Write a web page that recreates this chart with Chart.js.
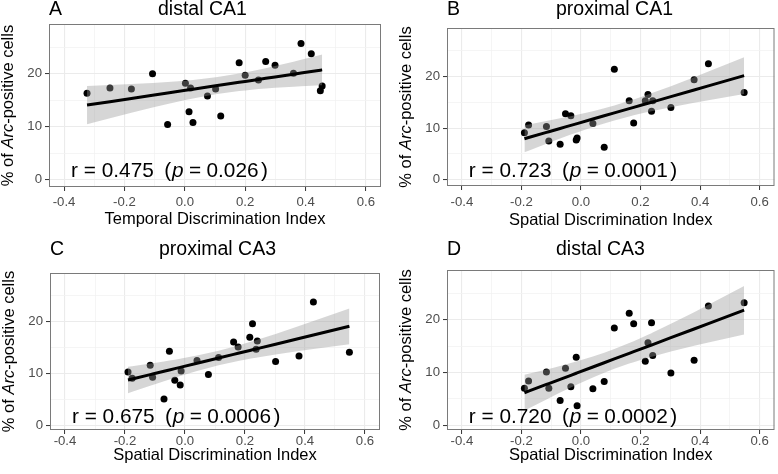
<!DOCTYPE html>
<html><head><meta charset="utf-8">
<script src="https://cdn.jsdelivr.net/npm/chart.js@4.4.1/dist/chart.umd.min.js"></script>
<style>
html,body{margin:0;padding:0;background:#fff;}
#wrap{position:relative;width:778px;height:474px;overflow:hidden;background:#fff;}
canvas{position:absolute;}
</style></head><body>
<div id="wrap">
<canvas id="cA" width="389" height="237" style="left:0;top:0"></canvas>
<canvas id="cB" width="389" height="237" style="left:389px;top:0"></canvas>
<canvas id="cC" width="389" height="237" style="left:0;top:237px"></canvas>
<canvas id="cD" width="389" height="237" style="left:389px;top:237px"></canvas>
</div>
<script>
// ---- data ----
const temporalIndex = [-0.324, -0.248, -0.177, -0.107, -0.057, 0.002, 0.019, 0.014, 0.027, 0.075, 0.102, 0.119, 0.180, 0.200, 0.244, 0.268, 0.299, 0.360, 0.385, 0.419, 0.449, 0.455];
const distalCA1 = [16.3, 17.3, 17.1, 20.0, 10.4, 18.2, 17.3, 12.8, 10.8, 15.8, 17.1, 12.0, 22.1, 19.7, 18.8, 22.3, 21.6, 20.1, 25.7, 23.8, 16.8, 17.7];

const spatialIndex = [-0.190, -0.176, -0.116, -0.108, -0.070, -0.052, -0.034, -0.016, -0.013, 0.040, 0.078, 0.112, 0.162, 0.177, 0.216, 0.225, 0.237, 0.241, 0.302, 0.380, 0.428, 0.548];
const proximalCA1 = [9.1, 10.6, 10.3, 7.5, 6.9, 12.8, 12.4, 7.7, 8.1, 10.9, 6.3, 21.4, 15.3, 11.0, 15.3, 16.5, 13.3, 15.3, 14.0, 19.4, 22.5, 16.9];
const proximalCA3 = [10.3, 9.1, 11.6, 9.3, 5.1, 14.3, 8.7, 7.8, 10.5, 12.5, 9.8, 13.1, 16.1, 15.1, 17.0, 19.6, 14.7, 16.3, 12.3, 13.4, 23.8, 14.1];
const distalCA3 = [7.0, 8.4, 10.1, 7.0, 4.7, 10.8, 7.3, 12.9, 3.7, 6.9, 8.3, 18.4, 21.2, 19.2, 12.1, 15.6, 19.4, 13.2, 9.9, 12.3, 22.6, 23.2];

const panelLetters = ['A', 'B', 'C', 'D'];
const panelTitles = ['distal CA1', 'proximal CA1', 'proximal CA3', 'distal CA3'];
const xAxisTitles = ['Temporal Discrimination Index', 'Spatial Discrimination Index', 'Spatial Discrimination Index', 'Spatial Discrimination Index'];
const rValues = ['0.475', '0.723', '0.675', '0.720'];
const pValues = ['0.026', '0.0001', '0.0006', '0.0002'];

const xMajorTicks = [-0.4, -0.2, 0, 0.2, 0.4, 0.6];
const xMinorTicks = [-0.3, -0.1, 0.1, 0.3, 0.5];
const yMajorTicks = [0, 10, 20];
const yMinorTicks = [5, 15, 25];

const seriesX = [temporalIndex, spatialIndex, spatialIndex, spatialIndex];
const seriesY = [distalCA1, proximalCA1, proximalCA3, distalCA3];

// ---- layout (canvas-relative pixels) ----
const FONT = "'Liberation Sans', Arial, sans-serif";
const layouts = [
  {id: 'cA', left: 49, right: 381, top: 24, bottom: 187, yMin: -1.4, titleY: 15, tickPad: 3, xTitleY: 224},
  {id: 'cB', left: 58, right: 386, top: 28, bottom: 186, yMin: -1.2, titleY: 15, tickPad: 4, xTitleY: 225},
  {id: 'cC', left: 50, right: 380, top: 36, bottom: 193, yMin: -0.9, titleY: 17.5, tickPad: -1, xTitleY: 222.5},
  {id: 'cD', left: 58, right: 386, top: 33, bottom: 193, yMin: -0.9, titleY: 17.5, tickPad: -1, xTitleY: 222.5}
];

function linearFit(xs, ys) {
  const n = xs.length;
  const xm = xs.reduce((a, b) => a + b, 0) / n;
  const ym = ys.reduce((a, b) => a + b, 0) / n;
  let sxx = 0, sxy = 0, syy = 0;
  for (let i = 0; i < n; i++) {
    sxx += (xs[i] - xm) ** 2; sxy += (xs[i] - xm) * (ys[i] - ym); syy += (ys[i] - ym) ** 2;
  }
  const b = sxy / sxx, a = ym - b * xm;
  let sse = 0;
  for (let i = 0; i < n; i++) sse += (ys[i] - a - b * xs[i]) ** 2;
  const s = Math.sqrt(sse / (n - 2));
  const t = 2.086; // t(0.975, df = 20)
  const xsSorted = [...xs].sort((p, q) => p - q);
  const se = x => s * Math.sqrt(1 / n + (x - xm) ** 2 / sxx);
  return {
    r: sxy / Math.sqrt(sxx * syy),
    line: xsSorted.map(x => ({x, y: a + b * x})),
    lo: xsSorted.map(x => ({x, y: a + b * x - t * se(x)})),
    hi: xsSorted.map(x => ({x, y: a + b * x + t * se(x)}))
  };
}

function drawRich(ctx, x, y, segs, size, measureOnly) {
  let cx = x;
  for (const s of segs) {
    cx += (s.gap || 0) * size;
    ctx.font = (s.italic ? 'italic ' : '') + size + 'px ' + FONT;
    if (!measureOnly) ctx.fillText(s.t, cx, y);
    cx += ctx.measureText(s.t).width;
  }
  return cx - x;
}

function makeDecor(i, L) {
  return {
    id: 'decor' + i,
    afterDatasetsDraw(chart) {
      const ctx = chart.ctx, ca = chart.chartArea;
      ctx.save();
      ctx.strokeStyle = '#7a7a7a';
      ctx.lineWidth = 1;
      ctx.strokeRect(ca.left + 0.5, ca.top + 0.5, ca.right - ca.left - 1, ca.bottom - ca.top - 1);
      ctx.restore();
    },
    afterDraw(chart) {
      const ctx = chart.ctx, ca = chart.chartArea;
      const xs = chart.scales.x, ys = chart.scales.y;
      ctx.save();
      ctx.fillStyle = '#000';
      ctx.textBaseline = 'alphabetic';
      ctx.textAlign = 'left';
      // panel letter and title
      ctx.font = '19.5px ' + FONT;
      ctx.fillText(panelLetters[i], ca.left, L.titleY);
      ctx.fillText(panelTitles[i], ca.left + 109, L.titleY);
      // x axis title
      ctx.font = '16.5px ' + FONT;
      ctx.textAlign = 'center';
      ctx.fillText(xAxisTitles[i], (ca.left + ca.right) / 2, L.xTitleY);
      // y axis title (rotated, italic Arc)
      const ySegs = [{t: '% of '}, {t: 'Arc', italic: true}, {t: '-positive cells'}];
      ctx.textAlign = 'left';
      ctx.textBaseline = 'middle';
      const w = drawRich(ctx, 0, 0, ySegs, 16.5, true);
      ctx.save();
      ctx.translate(ca.left - 41, (ca.top + ca.bottom) / 2);
      ctx.rotate(-Math.PI / 2);
      drawRich(ctx, -w / 2, 0, ySegs, 16.5, false);
      ctx.restore();
      // correlation annotation
      ctx.textBaseline = 'alphabetic';
      const rSegs = [
        {t: 'r'}, {t: '=', gap: 0.28}, {t: rValues[i], gap: 0.28},
        {t: '(', gap: 0.5}, {t: 'p', italic: true, gap: 0.04},
        {t: '=', gap: 0.26}, {t: pValues[i], gap: 0.26}, {t: ')', gap: 0.12}
      ];
      drawRich(ctx, xs.getPixelForValue(-0.377), ys.getPixelForValue(0.5), rSegs, 20.8, false);
      ctx.restore();
    }
  };
}

layouts.forEach((L, i) => {
  const xsData = seriesX[i], ysData = seriesY[i];
  const fit = linearFit(xsData, ysData);
  const points = xsData.map((x, k) => ({x, y: ysData[k]}));
  const xTicks = [...xMajorTicks, ...xMinorTicks].sort((a, b) => a - b);
  const yTicks = [...yMajorTicks, ...yMinorTicks].sort((a, b) => a - b);
  const cv = document.getElementById(L.id);
  new Chart(cv.getContext('2d'), {
    type: 'scatter',
    data: {
      datasets: [
        {data: points, showLine: false, pointRadius: 3.5, pointHoverRadius: 3.5, pointBackgroundColor: '#000', pointBorderColor: '#000', pointBorderWidth: 0, order: 3},
        {data: fit.lo, showLine: true, pointRadius: 0, borderWidth: 0, borderColor: 'rgba(0,0,0,0)', fill: false, order: 2},
        {data: fit.hi, showLine: true, pointRadius: 0, borderWidth: 0, borderColor: 'rgba(0,0,0,0)', fill: '-1', backgroundColor: 'rgba(153,153,153,0.4)', order: 2},
        {data: fit.line, showLine: true, pointRadius: 0, borderWidth: 3, borderColor: '#000', fill: false, order: 1}
      ]
    },
    options: {
      responsive: false, animation: false, devicePixelRatio: 1,
      layout: {padding: {left: 0, top: L.top, right: 389 - L.right, bottom: 0}},
      plugins: {legend: {display: false}, tooltip: {enabled: false}, title: {display: false}},
      scales: {
        x: {
          type: 'linear', min: -0.45, max: 0.65,
          afterFit(s) { s.height = 237 - L.bottom; },
          afterBuildTicks(s) { s.ticks = xTicks.map(v => ({value: v})); },
          ticks: {
            autoSkip: false, maxRotation: 0, padding: L.tickPad,
            color: '#4D4D4D', font: {family: FONT, size: 13.2},
            callback: v => xMajorTicks.includes(v) ? v.toFixed(1) : ''
          },
          grid: {
            color: c => xMajorTicks.includes(c.tick.value) ? '#EBEBEB' : '#F3F3F3',
            lineWidth: c => xMajorTicks.includes(c.tick.value) ? 1.1 : 0.8,
            tickColor: c => xMajorTicks.includes(c.tick.value) ? '#333333' : 'rgba(0,0,0,0)',
            tickLength: 4, tickWidth: 1
          },
          border: {display: false}
        },
        y: {
          type: 'linear', min: L.yMin, max: 29.4,
          afterFit(s) { s.width = L.left; },
          afterBuildTicks(s) { s.ticks = yTicks.map(v => ({value: v})); },
          ticks: {
            autoSkip: false, padding: 3,
            color: '#4D4D4D', font: {family: FONT, size: 13.2},
            callback: v => yMajorTicks.includes(v) ? String(v) : ''
          },
          grid: {
            color: c => yMajorTicks.includes(c.tick.value) ? '#EBEBEB' : '#F3F3F3',
            lineWidth: c => yMajorTicks.includes(c.tick.value) ? 1.1 : 0.8,
            tickColor: c => yMajorTicks.includes(c.tick.value) ? '#333333' : 'rgba(0,0,0,0)',
            tickLength: 4, tickWidth: 1
          },
          border: {display: false}
        }
      }
    },
    plugins: [makeDecor(i, L)]
  });
});
</script>
</body></html>
